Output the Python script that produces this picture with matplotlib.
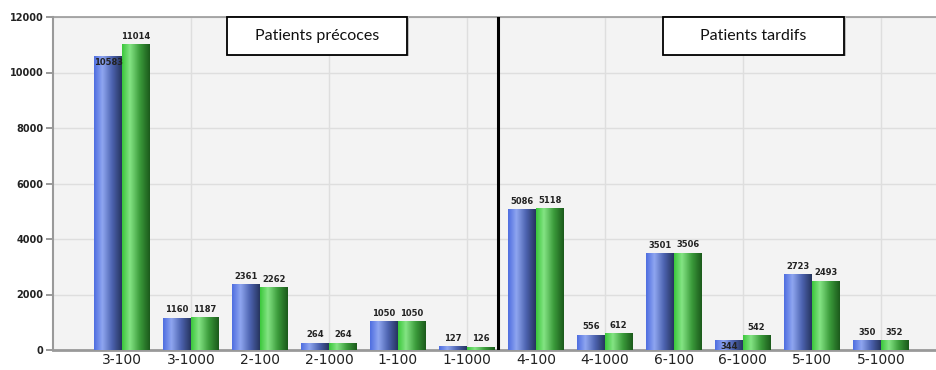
import numpy as np
import matplotlib
matplotlib.use("Agg")
import matplotlib.pyplot as plt
from matplotlib.colors import LinearSegmentedColormap
from matplotlib.patches import Rectangle

categories = ["3-100", "3-1000", "2-100", "2-1000", "1-100", "1-1000",
              "4-100", "4-1000", "6-100", "6-1000", "5-100", "5-1000"]
series_blue = [10583, 1160, 2361, 264, 1050, 127, 5086, 556, 3501, 344, 2723, 350]
series_green = [11014, 1187, 2262, 264, 1050, 126, 5118, 612, 3506, 542, 2493, 352]
yticks = [0, 2000, 4000, 6000, 8000, 10000, 12000]
group_labels = ["Patients précoces", "Patients tardifs"]
inside_blue = {0, 9}  # labels drawn inside the bar top

fig = plt.figure(figsize=(9.36, 3.70), dpi=100)
ax = fig.add_axes([53/936, 1 - 350/370, 1 - 53/936, 333/370])
ax.set_facecolor("#f3f3f3")

x = np.arange(len(categories))
w = 0.4
cmap_b = LinearSegmentedColormap.from_list("b", [(0, "#4f6ee0"), (0.3, "#8fa6f0"), (0.65, "#4d63b0"), (1, "#26355f")])
cmap_g = LinearSegmentedColormap.from_list("g", [(0, "#3cc83c"), (0.28, "#84e484"), (0.65, "#3a9a3a"), (1, "#1b5a1b")])
grad = np.linspace(0, 1, 64).reshape(1, -1)

bars_b = ax.bar(x - w/2, series_blue, w, color="none", edgecolor="none", zorder=3)
bars_g = ax.bar(x + w/2, series_green, w, color="none", edgecolor="none", zorder=3)
for bars, cm in ((bars_b, cmap_b), (bars_g, cmap_g)):
    for b in bars:
        x0, y0 = b.get_x(), b.get_y()
        im = ax.imshow(grad, cmap=cm, aspect="auto", zorder=3,
                       extent=(x0, x0 + b.get_width(), y0, y0 + b.get_height()),
                       interpolation="bilinear")
        im.set_clip_path(b)

lab_kw = dict(fontsize=6, fontweight="bold", color="#222222", ha="center", zorder=5)
for i, b in enumerate(bars_b):
    h = b.get_height()
    if i in inside_blue:
        ax.text(b.get_x() + b.get_width()/2, h - 60, f"{series_blue[i]}", va="top", **lab_kw)
    else:
        ax.text(b.get_x() + b.get_width()/2, h + 120, f"{series_blue[i]}", va="bottom", **lab_kw)
for i, b in enumerate(bars_g):
    h = b.get_height()
    ax.text(b.get_x() + b.get_width()/2, h + 120, f"{series_green[i]}", va="bottom", **lab_kw)

ax.set_xlim(-1, 11.8)
ax.set_ylim(0, 12000)
ax.set_yticks(yticks)
ax.set_yticklabels([str(t) for t in yticks], fontsize=7, fontweight="bold", color="#222222")
ax.set_xticks(x)
ax.set_xticklabels(categories, fontsize=10, color="#222222")
ax.tick_params(axis="x", length=0, pad=2.5)
ax.tick_params(axis="y", length=5, width=1.2, color="#888888", pad=2)
ax.yaxis.grid(True, color="#dedede", linewidth=1, zorder=0)
for gx in np.arange(1, 12, 2):
    ax.axvline(gx, color="#dedede", linewidth=1, zorder=0)
ax.set_axisbelow(True)
for s in ("left", "bottom", "top"):
    ax.spines[s].set_color("#999999")
ax.spines["left"].set_linewidth(1.5)
ax.spines["bottom"].set_linewidth(2)
ax.spines["top"].set_linewidth(1.2)
ax.spines["right"].set_visible(False)

ax.axvline(5.45, color="black", linewidth=2.2, zorder=4)

for (x0, x1), lab in zip([(1.52, 4.13), (7.84, 10.46)], group_labels):
    ax.add_patch(Rectangle((x0 + 0.03, 10580), x1 - x0, 1420, facecolor="#bbbbbb",
                           edgecolor="none", zorder=5, clip_on=False))
    ax.add_patch(Rectangle((x0, 10640), x1 - x0, 1360, facecolor="white",
                           edgecolor="black", linewidth=1.3, zorder=6, clip_on=False))
    ax.text((x0 + x1)/2, 11320, lab, ha="center", va="center", fontsize=11.5,
            family=["Lato", "DejaVu Sans"], color="#111111", zorder=7)

fig.savefig("out.png", dpi=100, facecolor="white")
